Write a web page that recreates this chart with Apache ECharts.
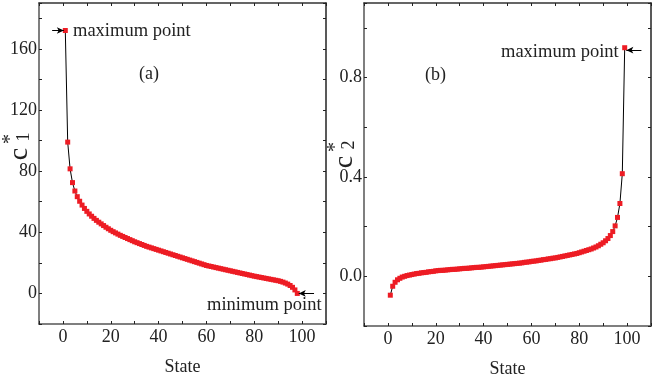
<!DOCTYPE html>
<html>
<head>
<meta charset="utf-8">
<script src="https://cdn.jsdelivr.net/npm/echarts@6/dist/echarts.min.js"></script>
<style>
  html, body { margin: 0; padding: 0; background: #fff; }
  #main { width: 654px; height: 383px; }
</style>
</head>
<body>
<div id="main"></div>
<script>
// panel (a): c1* for states 1..98
const c1Values = [
  172, 99, 81.5, 72.5, 67, 63.3, 60.3, 57.8, 55.6, 53.7,
  52.0, 50.5, 49.1, 47.8, 46.6, 45.5, 44.4, 43.3, 42.3, 41.3,
  40.4, 39.6, 38.8, 38.0, 37.3, 36.6, 35.9, 35.2, 34.5, 33.8,
  33.2, 32.6, 32.0, 31.4, 30.8, 30.3, 29.8, 29.3, 28.8, 28.3,
  27.8, 27.3, 26.8, 26.3, 25.8, 25.3, 24.8, 24.3, 23.8, 23.3,
  22.8, 22.3, 21.8, 21.3, 20.8, 20.3, 19.8, 19.3, 18.8, 18.3,
  17.95, 17.6, 17.25, 16.9, 16.55, 16.2, 15.85, 15.5, 15.15, 14.8,
  14.45, 14.1, 13.75, 13.4, 13.05, 12.7, 12.35, 12.0, 11.65, 11.3,
  11.0, 10.7, 10.4, 10.1, 9.8, 9.5, 9.2, 8.9, 8.6, 8.3,
  7.9, 7.4, 6.8, 6.1, 5.2, 4.0, 2.3, 0
];
// panel (b): c2* for states 1..99
const c2Values = [
  -0.076, -0.040, -0.024, -0.014, -0.008, -0.003, 0.000, 0.003, 0.005, 0.007,
  0.009, 0.011, 0.012, 0.014, 0.015, 0.016, 0.018, 0.019, 0.020, 0.022,
  0.023, 0.024, 0.024, 0.025, 0.026, 0.027, 0.028, 0.028, 0.029, 0.030,
  0.031, 0.032, 0.032, 0.033, 0.034, 0.035, 0.036, 0.036, 0.037, 0.038,
  0.039, 0.040, 0.041, 0.042, 0.043, 0.044, 0.045, 0.046, 0.047, 0.048,
  0.049, 0.050, 0.051, 0.052, 0.053, 0.054, 0.056, 0.057, 0.058, 0.060,
  0.061, 0.062, 0.064, 0.065, 0.067, 0.068, 0.070, 0.071, 0.073, 0.074,
  0.076, 0.078, 0.080, 0.082, 0.084, 0.086, 0.088, 0.090, 0.092, 0.095,
  0.098, 0.101, 0.104, 0.107, 0.110, 0.114, 0.118, 0.123, 0.129, 0.135,
  0.143, 0.152, 0.164, 0.180, 0.203, 0.237, 0.293, 0.413, 0.920
];
const stateTicks = [0, 20, 40, 60, 80, 100];
const c1Ticks = [0, 40, 80, 120, 160];
const c2Ticks = ['0.0', '0.4', '0.8'];

const FONT = 'Liberation Serif';
const RED = '#ed1c24';
const AXIS = '#555';

function toPoints(vals) {
  return vals.map(function (v, i) { return [i + 1, v]; });
}

function xAxisFor(gridIndex) {
  return {
    type: 'value', gridIndex: gridIndex, min: -10, max: 110, interval: 10,
    name: 'State', nameLocation: 'middle', nameGap: 34,
    nameTextStyle: { fontFamily: FONT, fontSize: 18, color: '#222' },
    axisLine: { onZero: false, lineStyle: { color: AXIS, width: 1.5 } },
    axisTick: { inside: true, length: 3, lineStyle: { color: '#222' } },
    splitLine: { show: false },
    axisLabel: {
      fontFamily: FONT, fontSize: 18, color: '#222', margin: 4,
      formatter: function (v) { return stateTicks.indexOf(v) >= 0 ? String(v) : ''; }
    }
  };
}
function topAxisFor(gridIndex) {
  return {
    type: 'value', gridIndex: gridIndex, position: 'top', min: -10, max: 110, interval: 10,
    axisLine: { onZero: false, lineStyle: { color: '#333', width: 1.5 } },
    axisTick: { inside: true, length: 3, lineStyle: { color: '#222' } },
    axisLabel: { show: false }, splitLine: { show: false }
  };
}

// rotated y-axis title: big c with * above and index below
function yTitle(x, y, idx) {
  const st = function (t, size) {
    return { text: t, font: size + 'px ' + FONT, fill: '#222', align: 'center', verticalAlign: 'middle' };
  };
  return {
    type: 'group', x: x, y: y, rotation: Math.PI / 2,
    children: [
      { type: 'text', x: 0, y: 0, style: st('c', 28) },
      { type: 'text', x: 15, y: -9, style: st('*', 20) },
      { type: 'text', x: 17, y: 4, style: st(idx, 18) }
    ]
  };
}

const option = {
  animation: false,
  grid: [
    { left: 39, top: 3, width: 287, height: 321 },
    { left: 364, top: 3, width: 295, height: 323 }
  ],
  xAxis: [xAxisFor(0), topAxisFor(0), xAxisFor(1), topAxisFor(1)],
  yAxis: [
    {
      type: 'value', gridIndex: 0, min: -20, max: 190, interval: 20,
      axisLine: { onZero: false, lineStyle: { color: AXIS, width: 1.5 } },
      axisTick: { inside: true, length: 3, lineStyle: { color: '#222' } },
      splitLine: { show: false },
      axisLabel: {
        fontFamily: FONT, fontSize: 18, color: '#222', margin: 2,
        formatter: function (v) { return c1Ticks.indexOf(v) >= 0 ? String(v) : ''; }
      }
    },
    {
      type: 'value', gridIndex: 0, position: 'right', min: -20, max: 190, interval: 20,
      axisLine: { onZero: false, lineStyle: { color: '#222', width: 1.5 } },
      axisTick: { inside: true, length: 3, lineStyle: { color: '#222' } },
      axisLabel: { show: false }, splitLine: { show: false }
    },
    {
      type: 'value', gridIndex: 1, min: -0.2, max: 1.1, interval: 0.2,
      axisLine: { onZero: false, lineStyle: { color: AXIS, width: 1.5 } },
      axisTick: { inside: true, length: 3, lineStyle: { color: '#222' } },
      splitLine: { show: false },
      axisLabel: {
        fontFamily: FONT, fontSize: 18, color: '#222', margin: 2,
        formatter: function (v) {
          const s = (Math.round(v * 10) / 10).toFixed(1);
          return c2Ticks.indexOf(s) >= 0 ? s : '';
        }
      }
    },
    {
      type: 'value', gridIndex: 1, position: 'right', min: -0.2, max: 1.1, interval: 0.2,
      axisLine: { onZero: false, lineStyle: { color: '#222', width: 1.5 } },
      axisTick: { inside: true, length: 3 },
      axisLabel: { show: false }, splitLine: { show: false }
    }
  ],
  series: [
    {
      type: 'line', xAxisIndex: 0, yAxisIndex: 0,
      data: toPoints(c1Values),
      symbol: 'rect', symbolSize: 5, showSymbol: true,
      lineStyle: { color: '#000', width: 1 },
      itemStyle: { color: RED },
      markLine: {
        silent: true, symbol: ['none', 'arrow'], symbolSize: [5, 7],
        lineStyle: { color: '#000', width: 1, type: 'solid' },
        label: { show: false },
        data: [
          [{ coord: [-4.5, 172] }, { coord: [0.4, 172] }],
          [{ coord: [105, 0] }, { coord: [98.6, 0] }]
        ]
      }
    },
    {
      type: 'line', xAxisIndex: 2, yAxisIndex: 2,
      data: toPoints(c2Values),
      symbol: 'rect', symbolSize: 5, showSymbol: true,
      lineStyle: { color: '#000', width: 1 },
      itemStyle: { color: RED },
      markLine: {
        silent: true, symbol: ['none', 'arrow'], symbolSize: [5, 7],
        lineStyle: { color: '#000', width: 1, type: 'solid' },
        label: { show: false },
        data: [
          [{ coord: [106, 0.91] }, { coord: [99.7, 0.91] }]
        ]
      }
    }
  ],
  graphic: [
    { type: 'text', left: 73, top: 22, style: { text: 'maximum point', font: '18.5px ' + FONT, fill: '#222' } },
    { type: 'text', left: 139, top: 65, style: { text: '(a)', font: '18px ' + FONT, fill: '#222' } },
    { type: 'text', left: 207, top: 296, style: { text: 'minimum point', font: '18.5px ' + FONT, fill: '#222' } },
    { type: 'text', left: 501, top: 43, style: { text: 'maximum point', font: '18.5px ' + FONT, fill: '#222' } },
    { type: 'text', left: 425, top: 66, style: { text: '(b)', font: '18px ' + FONT, fill: '#222' } },
    yTitle(20, 154, '1'),
    yTitle(345, 162, '2')
  ]
};

const myChart = echarts.init(document.getElementById('main'), null, { renderer: 'canvas' });
myChart.setOption(option);
window.addEventListener('resize', function () { myChart.resize(); });
</script>
</body>
</html>
